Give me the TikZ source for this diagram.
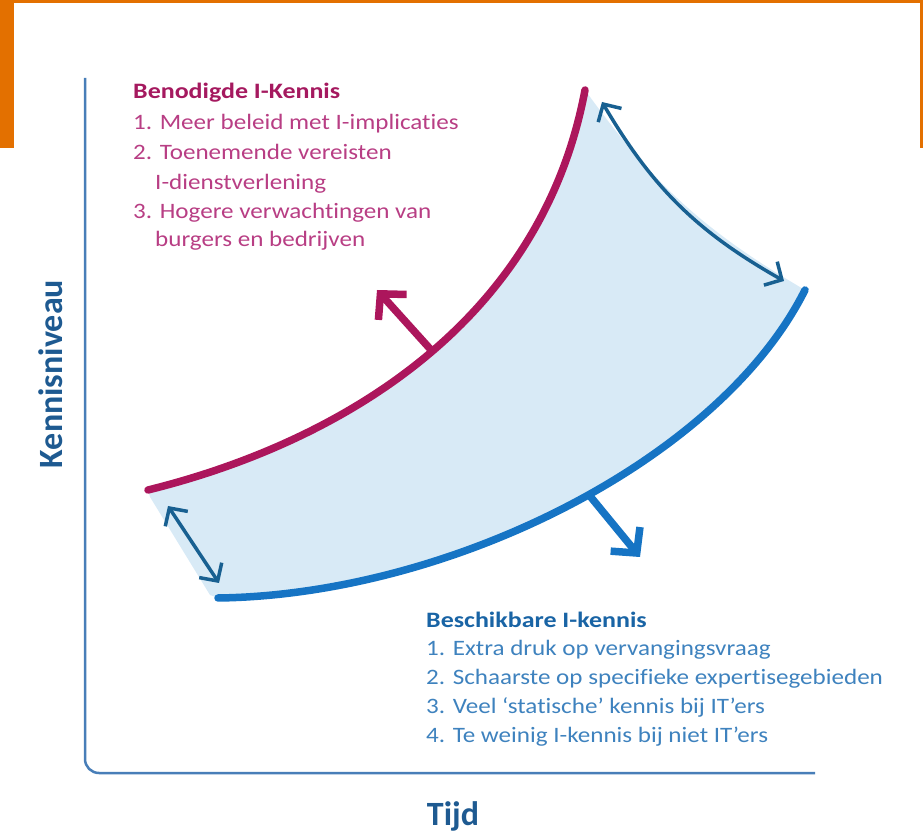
\documentclass[tikz,border=0pt]{standalone}
\usepackage{fontspec}
\setmainfont{Carlito}
\newfontfamily\bodyfont[FakeStretch=1.14,Ligatures=NoCommon]{Carlito}
\newfontfamily\headfont[FakeStretch=1.18,Ligatures=NoCommon]{Carlito}
\usetikzlibrary{arrows.meta}
\definecolor{orangeB}{RGB}{227,112,0}
\definecolor{magLine}{RGB}{172,22,92}
\definecolor{magHead}{RGB}{165,25,95}
\definecolor{magText}{RGB}{184,62,132}
\definecolor{blueLine}{RGB}{22,116,196}
\definecolor{blueHead}{RGB}{25,100,165}
\definecolor{blueText}{RGB}{62,130,190}
\definecolor{axisCol}{RGB}{72,126,184}
\definecolor{axisText}{RGB}{30,90,145}
\definecolor{fillBlue}{RGB}{216,234,246}
\definecolor{gapArrow}{RGB}{24,96,145}
\tikzset{
  bodytext/.style={anchor=base west, inner sep=0pt, font=\bodyfont\fontsize{22}{26}\selectfont},
  headtext/.style={anchor=base west, inner sep=0pt, font=\headfont\fontsize{22}{26}\selectfont\bfseries},
  axislabel/.style={inner sep=0pt, anchor=base, text=axisText, font=\fontsize{34}{40}\selectfont\bfseries},
  curveline/.style={line width=7.5pt, line cap=round},
  gaparrow/.style={draw=gapArrow, line width=3.5pt, {Straight Barb[length=13pt,width=27pt]}-{Straight Barb[length=13pt,width=27pt]}},
  outarrow/.style={line width=7.5pt, -{Straight Barb[length=18pt,width=38pt]}}
}
\begin{document}
\begin{tikzpicture}[x=1pt,y=1pt]
\useasboundingbox (0,0) rectangle (923,833);
% orange frame remnants
\fill[orangeB] (0,830) rectangle (923,833);
\fill[orangeB] (0,685) rectangle (14,833);
\fill[orangeB] (920,685) rectangle (923,833);
% curve end points
\coordinate (mS) at (148,343);
\coordinate (mE) at (585,743);
\coordinate (bS) at (218,235);
\coordinate (bE) at (805,543);
% shaded band
\fill[fillBlue] (mS) .. controls (330,388) and (540,503) .. (mE)
  to[bend right=12] (bE)
  .. controls (720,373) and (450,238) .. (bS)
  -- (210,238) -- (150,336) -- cycle;
% axes
\coordinate (axTop) at (85,755);
\coordinate (axCorner) at (85,60);
\coordinate (axRight) at (815,60);
\draw[axisCol, line width=2.5pt, rounded corners=14pt] (axTop) -- (axCorner) -- (axRight);
% curves
\draw[magLine, curveline] (mS) .. controls (330,388) and (540,503) .. (mE)
  coordinate[pos=0.53] (mA);
\draw[blueLine, curveline] (bS) .. controls (450,238) and (720,373) .. (bE)
  coordinate[pos=0.535] (bA);
% outward arrows
\coordinate (mTip) at (377,543);
\coordinate (bTip) at (640,276);
\draw[magLine, outarrow] (mA) -- (mTip);
\draw[blueLine, outarrow] (bA) -- (bTip);
% gap arrows
\coordinate (g1a) at (602,731);
\coordinate (g1b) at (784,552);
\coordinate (g2a) at (168,327);
\coordinate (g2b) at (219,250);
\draw[gaparrow] (g1a) to[bend right=15] (g1b);
\draw[gaparrow] (g2a) -- (g2b);
% magenta text
\node[headtext, text=magHead] (mh) at (133,734) {Benodigde I-Kennis};
\node[bodytext, text=magText] (m1) at (133,703) {1. Meer beleid met I-implicaties};
\node[bodytext, text=magText] (m2) at (133,673) {2. Toenemende vereisten};
\node[bodytext, text=magText] (m3) at (155,643) {I-dienstverlening};
\node[bodytext, text=magText] (m4) at (133,614) {3. Hogere verwachtingen van};
\node[bodytext, text=magText] (m5) at (155,586) {burgers en bedrijven};
% blue text
\node[headtext, text=blueHead] (bh) at (426,206) {Beschikbare I-kennis};
\node[bodytext, text=blueText] (b1) at (426,178) {1. Extra druk op vervangingsvraag};
\node[bodytext, text=blueText] (b2) at (426,149) {2. Schaarste op specifieke expertisegebieden};
\node[bodytext, text=blueText] (b3) at (426,120) {3. Veel ‘statische’ kennis bij IT’ers};
\node[bodytext, text=blueText] (b4) at (426,91) {4. Te weinig I-kennis bij niet IT’ers};
% axis labels
\node[axislabel] (xl) at (453,8) {Tijd};
\node[axislabel, rotate=90] (yl) at (62,459) {Kennisniveau};
\end{tikzpicture}
\end{document}
